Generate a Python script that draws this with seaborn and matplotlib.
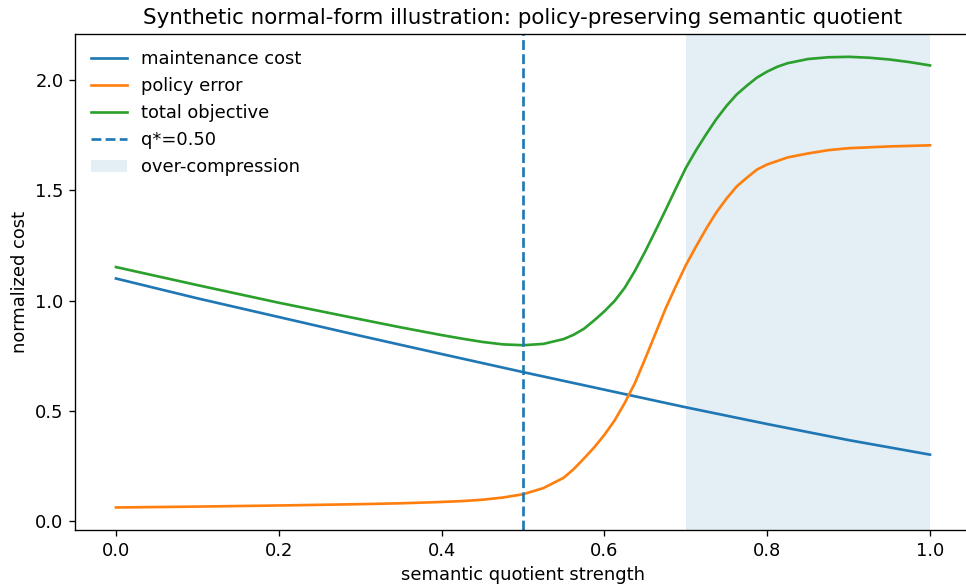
import matplotlib
matplotlib.use("Agg")
import matplotlib.pyplot as plt
import seaborn as sns
import pandas as pd

# maintenance cost
maint_x = [0.0, 0.1, 0.2, 0.3, 0.4, 0.5, 0.6, 0.7, 0.8, 0.9, 1.0]
maintenance_cost = [1.10, 1.01, 0.925, 0.84, 0.757, 0.675, 0.595, 0.515, 0.439,
                    0.366, 0.30]

# policy error
policy_x = [0.0, 0.1, 0.2, 0.3, 0.35, 0.4, 0.425, 0.45, 0.475, 0.5, 0.525, 0.55,
            0.5625, 0.575, 0.5875, 0.6, 0.6125, 0.625, 0.6375, 0.65, 0.6625, 0.675,
            0.6875, 0.7, 0.7125, 0.725, 0.7375, 0.75, 0.7625, 0.775, 0.7875, 0.8,
            0.825, 0.85, 0.875, 0.9, 0.95, 1.0]
policy_error = [0.060, 0.064, 0.069, 0.075, 0.079, 0.085, 0.089, 0.095, 0.105,
                0.120, 0.148, 0.195, 0.235, 0.283, 0.333, 0.39, 0.455, 0.535,
                0.625, 0.735, 0.848, 0.962, 1.063, 1.16, 1.245, 1.326, 1.40, 1.463,
                1.518, 1.558, 1.595, 1.618, 1.65, 1.668, 1.683, 1.692, 1.70, 1.705]

# total objective
total_x = [0.0, 0.1, 0.2, 0.3, 0.35, 0.4, 0.425, 0.45, 0.475, 0.5, 0.525, 0.55,
           0.5625, 0.575, 0.5875, 0.6, 0.6125, 0.625, 0.6375, 0.65, 0.6625, 0.675,
           0.6875, 0.7, 0.7125, 0.725, 0.7375, 0.75, 0.7625, 0.775, 0.7875, 0.8,
           0.8125, 0.825, 0.85, 0.875, 0.9, 0.925, 0.95, 0.975, 1.0]
total_objective = [1.152, 1.07, 0.99, 0.915, 0.878, 0.843, 0.827, 0.812, 0.801,
                   0.797, 0.803, 0.825, 0.845, 0.872, 0.91, 0.951, 0.998, 1.058,
                   1.135, 1.222, 1.315, 1.41, 1.507, 1.602, 1.682, 1.755, 1.824,
                   1.884, 1.936, 1.976, 2.013, 2.04, 2.062, 2.078, 2.097, 2.105,
                   2.107, 2.103, 2.095, 2.083, 2.068]

q_star = 0.50
over_lo, over_hi = 0.70, 1.0

maint_df = pd.DataFrame({"strength": maint_x, "value": maintenance_cost})
policy_df = pd.DataFrame({"strength": policy_x, "value": policy_error})
total_df = pd.DataFrame({"strength": total_x, "value": total_objective})

plt.rcParams.update({"font.size": 10.7, "axes.titlesize": 12.8})

fig = plt.figure(figsize=(966 / 120, 585 / 120), dpi=120)
ax = fig.add_axes([75.3 / 966, 55 / 585, (970.7 - 75.3) / 966, (530 - 34.3) / 585])

lw = 1.6
sns.lineplot(data=maint_df, x="strength", y="value", ax=ax, color="tab:blue",
             label="maintenance cost", linewidth=lw)
sns.lineplot(data=policy_df, x="strength", y="value", ax=ax, color="tab:orange",
             label="policy error", linewidth=lw)
sns.lineplot(data=total_df, x="strength", y="value", ax=ax, color="tab:green",
             label="total objective", linewidth=lw)

ax.axvline(q_star, color="tab:blue", linestyle="--", linewidth=lw,
           label=f"q*={q_star:.2f}")
ax.axvspan(over_lo, over_hi, color="tab:blue", alpha=0.12, linewidth=0,
           label="over-compression")

ax.set_xlim(-0.05, 1.05)
ax.spines["right"].set_visible(False)
ax.set_xlabel("semantic quotient strength")
ax.set_ylabel("normalized cost")
ax.set_title("Synthetic normal-form illustration: policy-preserving semantic quotient")
ax.legend(loc="upper left", frameon=False)

fig.savefig("out.png", dpi=120)
